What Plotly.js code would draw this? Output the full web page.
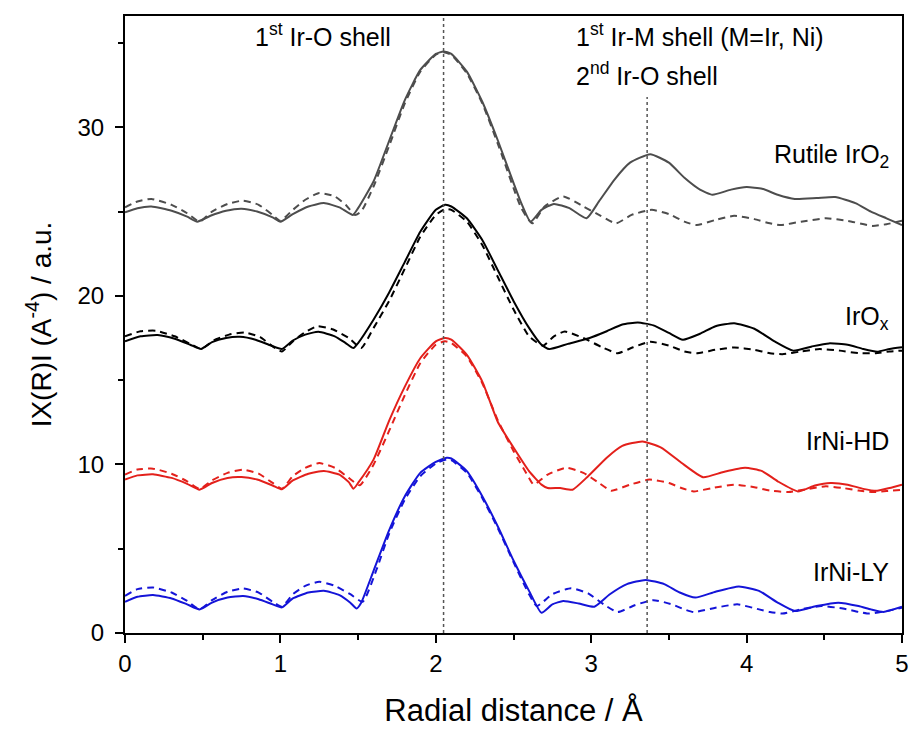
<!DOCTYPE html>
<html>
<head>
<meta charset="utf-8">
<script src="https://cdn.plot.ly/plotly-3.0.1.min.js"></script>
<style>html,body{margin:0;padding:0;background:#fff}#chart{width:912px;height:733px}</style>
</head>
<body>
<div id="chart"></div>
<script>
// ---- Data ----
var rutileExpX = [0,0.08,0.17,0.3,0.4,0.465,0.55,0.65,0.75,0.85,0.95,1.0,1.08,1.18,1.28,1.38,1.467,1.5,1.6,1.7,1.8,1.9,2.0,2.05,2.1,2.2,2.3,2.4,2.5,2.55,2.61,2.68,2.76,2.86,2.97,3.05,3.15,3.25,3.38,3.5,3.6,3.7,3.78,3.9,4.0,4.1,4.2,4.31,4.45,4.57,4.7,4.8,4.9,5.0];
var rutileExpY = [24.95,25.2,25.3,25.05,24.7,24.4,24.75,25.05,25.17,25.0,24.65,24.4,24.85,25.3,25.5,25.25,24.8,25.2,26.8,29.2,31.6,33.4,34.35,34.5,34.35,33.3,31.5,29.2,26.7,25.5,24.4,25.1,25.45,25.2,24.6,25.6,26.9,27.9,28.4,27.9,27.0,26.3,26.0,26.3,26.45,26.35,26.0,25.75,25.8,25.86,25.5,25.0,24.6,24.2];
var rutileFitX = [0,0.08,0.17,0.3,0.4,0.48,0.56,0.66,0.76,0.86,0.95,1.0,1.08,1.16,1.25,1.35,1.42,1.48,1.52,1.6,1.7,1.8,1.9,2.0,2.05,2.1,2.2,2.3,2.4,2.5,2.55,2.62,2.7,2.82,2.95,3.05,3.16,3.26,3.39,3.5,3.6,3.68,3.8,3.92,4.05,4.15,4.22,4.35,4.51,4.65,4.81,4.9,5.0];
var rutileFitY = [25.25,25.6,25.75,25.4,24.9,24.4,25.0,25.45,25.65,25.4,24.8,24.45,25.1,25.7,26.1,25.9,25.4,24.8,25.0,26.5,28.9,31.4,33.3,34.3,34.45,34.3,33.2,31.4,29.0,26.4,25.2,24.3,25.3,25.9,25.3,24.8,24.3,24.8,25.1,24.85,24.4,24.2,24.5,24.75,24.55,24.3,24.2,24.4,24.6,24.45,24.15,24.25,24.45];

var iroxExpX = [0,0.1,0.21,0.32,0.42,0.49,0.56,0.65,0.74,0.84,0.94,1.01,1.08,1.16,1.245,1.35,1.42,1.47,1.5,1.6,1.7,1.8,1.9,2.0,2.06,2.1,2.2,2.3,2.4,2.5,2.6,2.68,2.73,2.85,2.99,3.1,3.2,3.3,3.4,3.5,3.59,3.7,3.8,3.92,4.05,4.18,4.3,4.42,4.53,4.65,4.75,4.84,4.92,5.0];
var iroxExpY = [17.3,17.6,17.67,17.45,17.1,16.85,17.25,17.5,17.57,17.4,17.05,16.85,17.35,17.7,17.87,17.6,17.2,16.9,17.2,18.6,20.2,22.0,23.8,25.1,25.4,25.3,24.6,23.3,21.5,19.7,18.1,17.1,16.84,17.15,17.5,17.9,18.3,18.42,18.25,17.8,17.4,17.75,18.2,18.38,18.05,17.3,16.75,17.0,17.18,17.1,16.85,16.69,16.85,16.95];
var iroxFitX = [0,0.1,0.2,0.32,0.42,0.49,0.57,0.67,0.77,0.87,0.95,1.01,1.08,1.16,1.24,1.34,1.44,1.52,1.6,1.7,1.8,1.9,2.0,2.06,2.1,2.2,2.3,2.4,2.5,2.6,2.69,2.76,2.83,2.95,3.07,3.17,3.27,3.38,3.5,3.6,3.68,3.8,3.92,4.05,4.15,4.23,4.35,4.47,4.6,4.72,4.83,4.92,5.0];
var iroxFitY = [17.6,17.9,17.93,17.6,17.15,16.85,17.35,17.7,17.83,17.55,17.0,16.7,17.3,17.85,18.2,18.0,17.5,16.9,18.1,19.7,21.6,23.5,24.8,25.15,25.1,24.4,23.0,21.1,19.2,17.6,17.04,17.6,17.88,17.5,16.95,16.6,16.95,17.28,17.05,16.7,16.6,16.8,16.94,16.8,16.6,16.54,16.7,16.84,16.75,16.6,16.6,16.7,16.75];

var hdExpX = [0,0.08,0.18,0.3,0.4,0.48,0.56,0.66,0.75,0.85,0.95,1.01,1.08,1.18,1.28,1.38,1.44,1.47,1.5,1.6,1.7,1.8,1.9,2.0,2.06,2.1,2.2,2.3,2.4,2.5,2.6,2.68,2.72,2.8,2.88,2.98,3.1,3.2,3.33,3.45,3.58,3.72,3.85,3.99,4.1,4.2,4.33,4.44,4.54,4.65,4.75,4.84,4.92,5.0];
var hdExpY = [9.1,9.35,9.41,9.2,8.85,8.5,8.9,9.2,9.25,9.1,8.75,8.52,9.05,9.45,9.61,9.4,8.95,8.56,8.9,10.3,12.6,14.6,16.3,17.3,17.5,17.4,16.5,14.9,12.5,11.0,9.6,8.8,8.6,8.6,8.5,9.3,10.4,11.1,11.36,11.0,10.1,9.24,9.55,9.8,9.6,9.0,8.4,8.75,8.9,8.8,8.55,8.44,8.6,8.8];
var hdFitX = [0,0.08,0.18,0.3,0.4,0.48,0.56,0.66,0.76,0.86,0.95,1.01,1.08,1.16,1.25,1.35,1.44,1.51,1.6,1.7,1.8,1.9,2.0,2.06,2.1,2.2,2.3,2.4,2.5,2.6,2.63,2.72,2.84,2.95,3.05,3.13,3.25,3.375,3.5,3.58,3.66,3.78,3.92,4.05,4.15,4.27,4.4,4.51,4.62,4.72,4.81,4.9,5.0];
var hdFitY = [9.4,9.7,9.75,9.45,9.0,8.55,9.05,9.5,9.69,9.45,8.9,8.56,9.3,9.8,10.08,9.8,9.2,8.76,10.0,12.0,14.1,16.0,17.1,17.3,17.2,16.4,14.8,12.6,10.8,9.2,8.8,9.4,9.8,9.5,8.9,8.44,8.8,9.1,8.9,8.6,8.4,8.6,8.8,8.65,8.45,8.36,8.55,8.7,8.6,8.45,8.36,8.42,8.5];

var lyExpX = [0,0.08,0.18,0.3,0.4,0.48,0.56,0.66,0.76,0.86,0.95,1.01,1.08,1.18,1.28,1.38,1.45,1.49,1.52,1.6,1.7,1.8,1.9,2.0,2.07,2.1,2.2,2.3,2.4,2.5,2.6,2.68,2.75,2.82,2.92,3.02,3.12,3.23,3.35,3.47,3.57,3.67,3.8,3.95,4.08,4.2,4.31,4.45,4.59,4.72,4.8,4.88,5.0];
var lyExpY = [1.85,2.15,2.25,2.05,1.7,1.4,1.8,2.1,2.19,2.0,1.7,1.52,2.05,2.4,2.5,2.25,1.8,1.46,1.8,3.7,6.1,8.1,9.5,10.15,10.4,10.35,9.6,8.1,6.3,4.3,2.5,1.2,1.7,1.9,1.75,1.56,2.3,2.9,3.15,2.9,2.4,2.1,2.45,2.76,2.5,1.8,1.3,1.6,1.8,1.6,1.4,1.25,1.56];
var lyFitX = [0,0.08,0.18,0.3,0.4,0.48,0.56,0.66,0.76,0.86,0.95,1.01,1.08,1.16,1.25,1.35,1.45,1.53,1.62,1.7,1.8,1.9,2.0,2.07,2.1,2.2,2.3,2.4,2.5,2.6,2.65,2.75,2.87,2.98,3.08,3.17,3.28,3.4,3.52,3.6,3.66,3.8,3.94,4.08,4.15,4.23,4.35,4.48,4.62,4.72,4.79,4.9,5.0];
var lyFitY = [2.2,2.6,2.7,2.4,1.9,1.4,1.95,2.45,2.64,2.4,1.85,1.56,2.3,2.8,3.04,2.8,2.3,1.85,3.8,5.9,7.9,9.3,10.05,10.3,10.25,9.5,8.0,6.2,4.2,2.3,1.6,2.3,2.66,2.35,1.7,1.24,1.65,1.95,1.7,1.4,1.24,1.5,1.7,1.4,1.25,1.15,1.4,1.6,1.45,1.25,1.15,1.3,1.5];

var sampleNames = ["Rutile IrO<sub>2</sub>", "IrO<sub>x</sub>", "IrNi-HD", "IrNi-LY"];
var sampleLabelY = [28.3, 18.7, 11.4, 3.6];
var shellPositions = [2.05, 3.36];
var shellLabels = ["1<sup>st</sup> Ir-O shell", "1<sup>st</sup> Ir-M shell (M=Ir, Ni)", "2<sup>nd</sup> Ir-O shell"];

// ---- Styles ----
var colors = ["#4d4d4d", "#000000", "#e3201b", "#1414d8"];
var FONT = "Arial, 'Liberation Sans', sans-serif";

function tr(x, y, c, dash) {
  return {x: x, y: y, type: "scatter", mode: "lines",
    line: {color: c, width: 2, dash: dash, shape: "spline", smoothing: 0.5},
    hoverinfo: "skip", showlegend: false};
}
var traces = [
  tr(rutileFitX, rutileFitY, colors[0], "7px,5px"), tr(rutileExpX, rutileExpY, colors[0], "solid"),
  tr(iroxFitX, iroxFitY, colors[1], "7px,5px"), tr(iroxExpX, iroxExpY, colors[1], "solid"),
  tr(hdFitX, hdFitY, colors[2], "7px,5px"), tr(hdExpX, hdExpY, colors[2], "solid"),
  tr(lyFitX, lyFitY, colors[3], "7px,5px"), tr(lyExpX, lyExpY, colors[3], "solid")
];

var annFont = {size: 25, color: "#000", family: FONT};
var annotations = [
  {x: 0.825, y: 0.969, xref: "x", yref: "paper", xanchor: "left", yanchor: "middle", text: shellLabels[0], showarrow: false, font: annFont},
  {x: 2.887, y: 0.969, xref: "x", yref: "paper", xanchor: "left", yanchor: "middle", text: shellLabels[1], showarrow: false, font: annFont},
  {x: 2.887, y: 0.906, xref: "x", yref: "paper", xanchor: "left", yanchor: "middle", text: shellLabels[2], showarrow: false, font: annFont}
];
for (var i = 0; i < sampleNames.length; i++) {
  annotations.push({x: 4.93, y: sampleLabelY[i], xref: "x", yref: "y", xanchor: "right", yanchor: "middle",
    text: sampleNames[i], showarrow: false, font: annFont});
}

var shapes = [
  {type: "line", xref: "x", yref: "paper", x0: shellPositions[0], x1: shellPositions[0], y0: 0, y1: 1,
   line: {color: "#555", width: 1.5, dash: "dot"}},
  {type: "line", xref: "x", yref: "y", x0: shellPositions[1], x1: shellPositions[1], y0: 0, y1: 31.8,
   line: {color: "#555", width: 1.5, dash: "dot"}}
];

var layout = {
  width: 912, height: 733,
  margin: {l: 125, r: 10, t: 16, b: 100},
  paper_bgcolor: "#fff", plot_bgcolor: "#fff",
  font: {family: FONT, color: "#000"},
  showlegend: false,
  xaxis: {
    range: [0, 5], dtick: 1, tick0: 0,
    ticks: "outside", ticklen: 8, tickwidth: 2, tickcolor: "#000",
    minor: {dtick: 0.5, ticks: "outside", ticklen: 5, tickwidth: 2, tickcolor: "#000"},
    showline: true, linewidth: 2, linecolor: "#000", mirror: true,
    showgrid: false, zeroline: false,
    tickfont: {size: 24, family: FONT},
    title: {text: "Radial distance / Å", font: {size: 31, family: FONT}, standoff: 24}
  },
  yaxis: {
    range: [0, 36.6], dtick: 10, tick0: 0,
    ticks: "outside", ticklen: 8, tickwidth: 2, tickcolor: "#000",
    minor: {dtick: 5, ticks: "outside", ticklen: 5, tickwidth: 2, tickcolor: "#000"},
    showline: true, linewidth: 2, linecolor: "#000", mirror: true,
    showgrid: false, zeroline: false,
    ticklabelstandoff: 6,
    tickfont: {size: 24, family: FONT},
    title: {text: "IX(R)I (A<sup>-4</sup>) / a.u.", font: {size: 28, family: FONT}, standoff: 18}
  },
  annotations: annotations,
  shapes: shapes
};

Plotly.newPlot("chart", traces, layout, {staticPlot: true, displayModeBar: false});
</script>
</body>
</html>
